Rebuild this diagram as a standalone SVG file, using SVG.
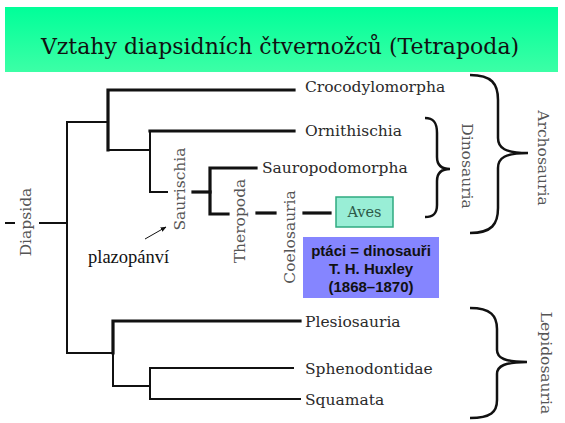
<svg xmlns="http://www.w3.org/2000/svg" width="565" height="423" viewBox="0 0 565 423">
<defs>
<linearGradient id="tg" x1="0" y1="0" x2="0" y2="1">
<stop offset="0" stop-color="#00FF99"/>
<stop offset="1" stop-color="#3CFFA6"/>
</linearGradient>
<marker id="ah" viewBox="0 0 10 10" refX="9" refY="5" markerWidth="6" markerHeight="6" orient="auto">
<path d="M0,1 L10,5 L0,9 Z" fill="#111"/>
</marker>
</defs>
<style>
.lbl{font-family:"DejaVu Serif",serif;font-size:15.5px;fill:#2a2a2a}
.vl{font-family:"DejaVu Serif",serif;font-size:15.5px;fill:#555;text-anchor:middle;dominant-baseline:central}
.thin{stroke:#111;stroke-width:2;fill:none;stroke-linecap:square}
.thick{stroke:#111;stroke-width:3.2;fill:none;stroke-linecap:square}
.brace{stroke:#111;stroke-width:2.5;fill:none}
.bx{font-family:"Liberation Sans",Arial,sans-serif;font-size:15px;font-weight:bold;fill:#111;text-anchor:middle}
</style>
<rect width="565" height="423" fill="#fff"/>
<g id="title">
<rect x="5" y="7" width="553" height="65" fill="url(#tg)"/>
<text x="280" y="54" font-family="DejaVu Serif, serif" font-size="22" fill="#111" text-anchor="middle">Vztahy diapsidních čtvernožců (Tetrapoda)</text>
</g>
<g id="connectors">
<line class="thin" x1="6" y1="223" x2="14" y2="223"/>
<line class="thin" x1="40" y1="223" x2="67" y2="223"/>
<polyline class="thin" points="108,122 67,122 67,353 113,353"/>
<polyline class="thick" points="294,90 108,90 108,150"/>
<polyline class="thin" points="108,150 150,150"/>
<polyline class="thin" points="150,131 150,192 167,192"/>
<line class="thick" x1="150" y1="131" x2="294" y2="131"/>
<line class="thick" x1="193" y1="192" x2="210" y2="192"/>
<polyline class="thick" points="256,168 210,168 210,214 228,214"/>
<line class="thick" x1="257" y1="213" x2="275" y2="213"/>
<line class="thick" x1="304" y1="213" x2="330" y2="213"/>
<polyline class="thick" points="300,321 113,321 113,353"/>
<polyline class="thin" points="113,353 113,386 150,386"/>
<polyline class="thin" points="293,368 150,368 150,399 300,399"/>
<line stroke="#111" stroke-width="1" x1="145" y1="239" x2="166" y2="227" marker-end="url(#ah)"/>
</g>
<g id="Diapsida"><text class="vl" transform="translate(26,222) rotate(-90)">Diapsida</text></g>
<g id="Saurischia"><text class="vl" transform="translate(180,189) rotate(-90)">Saurischia</text></g>
<g id="Theropoda"><text class="vl" transform="translate(240,221) rotate(-90)">Theropoda</text></g>
<g id="Coelosauria"><text class="vl" transform="translate(290,237) rotate(-90)">Coelosauria</text></g>
<g id="plazopanvi"><text x="88" y="263" font-family="Liberation Serif, serif" font-size="18.5" fill="#111">plazopánví</text></g>
<g id="Crocodylomorpha"><text class="lbl" x="305" y="92">Crocodylomorpha</text></g>
<g id="Ornithischia"><text class="lbl" x="305" y="136">Ornithischia</text></g>
<g id="Sauropodomorpha"><text class="lbl" x="262" y="173">Sauropodomorpha</text></g>
<g id="Aves">
<rect x="336" y="197" width="57" height="30" fill="#99EED6" stroke="#2FAA80" stroke-width="1.5"/>
<text x="364.5" y="217" font-family="DejaVu Serif, serif" font-size="14.5" fill="#2d5a48" text-anchor="middle">Aves</text>
</g>
<g id="note">
<rect x="303" y="237" width="136" height="61" fill="#8585FF"/>
<text class="bx" x="371" y="256">ptáci = dinosauři</text>
<text class="bx" x="371" y="274">T. H. Huxley</text>
<text class="bx" x="371" y="292">(1868–1870)</text>
</g>
<g id="Plesiosauria"><text class="lbl" x="305" y="327">Plesiosauria</text></g>
<g id="Sphenodontidae"><text class="lbl" x="305" y="374">Sphenodontidae</text></g>
<g id="Squamata"><text class="lbl" x="305" y="405">Squamata</text></g>
<g id="Dinosauria">
<path class="brace" d="M425,118 C434,118 437,123 437,133 L437,157 C437,165 441,169 450,169 C441,169 437,173 437,181 L437,205 C437,214 433,217 425,217"/>
<text class="vl" transform="translate(467,166) rotate(90)">Dinosauria</text>
</g>
<g id="Archosauria">
<path class="brace" d="M470,75 C492,75 498,84 498,100 L498,138 C498,148 505,153 528,153 C505,153 498,158 498,168 L498,208 C498,224 492,233 470,233"/>
<text class="vl" transform="translate(543,158) rotate(90)">Archosauria</text>
</g>
<g id="Lepidosauria">
<path class="brace" d="M470,308 C491,308 497,316 497,329 L497,350 C497,358 505,362 527,362 C505,362 497,366 497,374 L497,400 C497,412 491,418 470,418"/>
<text class="vl" transform="translate(546,363) rotate(90)">Lepidosauria</text>
</g>
</svg>
